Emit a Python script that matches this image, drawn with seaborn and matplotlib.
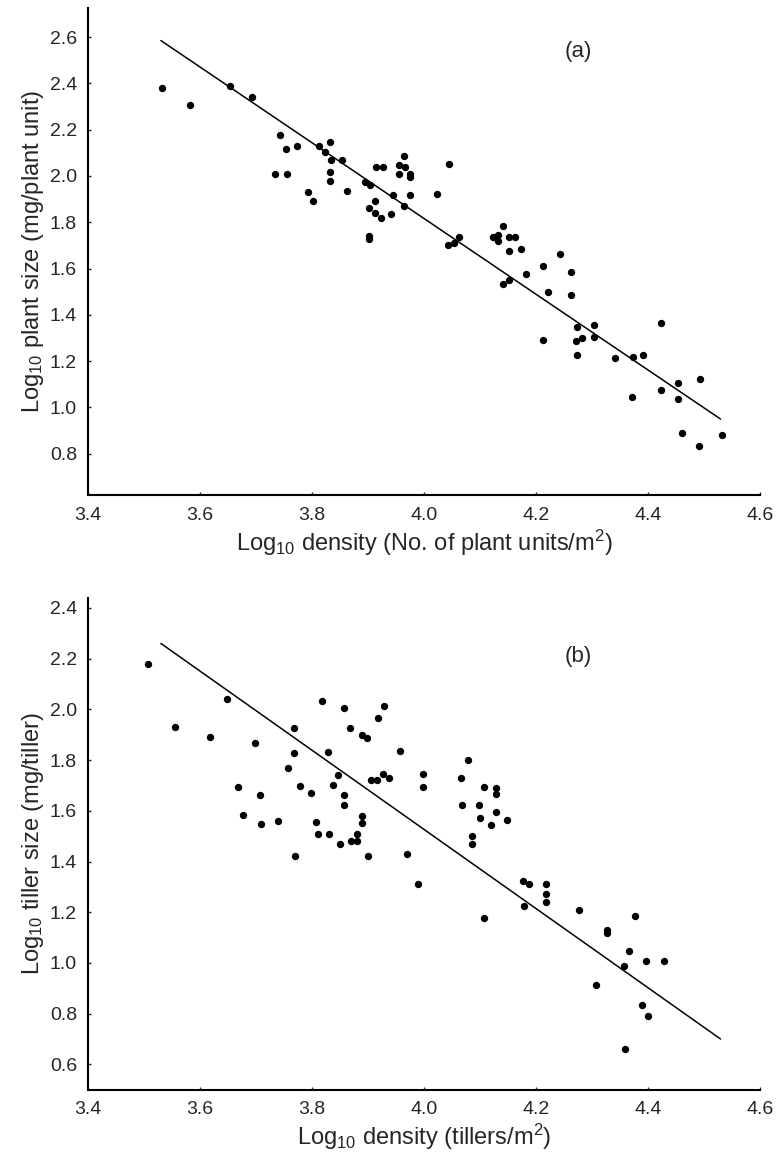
import matplotlib
matplotlib.use("Agg")
import matplotlib.pyplot as plt
import seaborn as sns
import pandas as pd

# (a) plant units: log10 density vs log10 plant size
density_a = [3.532, 3.582, 3.654, 3.693, 3.743, 3.754, 3.773, 3.734, 3.755, 3.793, 3.802,
             3.813, 3.823, 3.833, 3.834, 3.854, 3.833, 3.833, 3.863, 3.895, 3.904,
             3.914, 3.926, 3.965, 3.955, 3.966, 3.955, 3.976, 3.976, 4.045, 3.945,
             3.975, 4.024, 3.913, 3.902, 3.913, 3.923, 3.942, 3.964, 3.902, 3.902,
             4.043, 4.054, 4.063,
             4.142, 4.124, 4.133, 4.133, 4.152, 4.163, 4.152, 4.174, 4.243, 4.213,
             4.182, 4.263, 4.142, 4.152, 4.221, 4.263, 4.273, 4.304, 4.272, 4.283,
             4.304, 4.212, 4.273, 4.342, 4.373, 4.392, 4.423, 4.371, 4.424, 4.454,
             4.454, 4.493, 4.462, 4.492, 4.533]
size_a = [2.38, 2.305, 2.39, 2.34, 2.175, 2.118, 2.128, 2.01, 2.01, 1.93, 1.89,
          2.13, 2.105, 2.145, 2.07, 2.07, 2.018, 1.977, 1.936, 1.973, 1.961,
          2.038, 2.038, 2.085, 2.046, 2.038, 2.007, 2.007, 1.995, 2.051, 1.918,
          1.918, 1.92, 1.89, 1.86, 1.839, 1.819, 1.835, 1.871, 1.74, 1.729,
          1.70, 1.711, 1.737,
          1.783, 1.738, 1.747, 1.718, 1.735, 1.735, 1.676, 1.683, 1.664, 1.612,
          1.576, 1.584, 1.532, 1.551, 1.50, 1.487, 1.346, 1.356, 1.287, 1.298,
          1.306, 1.292, 1.228, 1.215, 1.218, 1.227, 1.364, 1.046, 1.076, 1.104,
          1.036, 1.124, 0.888, 0.833, 0.88]
fit_a_x = [3.53, 4.53]
fit_a_y = [2.585, 0.95]

# (b) tillers: log10 density vs log10 tiller size
density_b = [3.507, 3.555, 3.617, 3.648, 3.667, 3.677, 3.698, 3.707, 3.708, 3.739,
             3.758, 3.768, 3.768, 3.77, 3.779, 3.798, 3.808, 3.81, 3.817, 3.828,
             3.83, 3.837, 3.847, 3.85, 3.857, 3.857, 3.857, 3.868, 3.87, 3.88,
             3.88, 3.889, 3.889, 3.89, 3.899, 3.90, 3.905, 3.917, 3.918, 3.927,
             3.929, 3.937, 3.958, 3.97, 3.99, 3.999, 3.999, 4.067, 4.068, 4.079,
             4.085, 4.085, 4.098, 4.10, 4.107, 4.119, 4.128, 4.128, 4.128, 4.149,
             4.108, 4.177, 4.187, 4.218, 4.218, 4.218, 4.179, 4.277, 4.327, 4.327,
             4.377, 4.366, 4.357, 4.396, 4.429, 4.307, 4.39, 4.40, 4.36]
size_b = [2.18, 1.93, 1.89, 2.04, 1.692, 1.582, 1.869, 1.663, 1.546, 1.561,
          1.77, 1.927, 1.828, 1.42, 1.697, 1.67, 1.555, 1.51, 2.033, 1.83,
          1.51, 1.702, 1.742, 1.47, 2.005, 1.663, 1.622, 1.927, 1.48, 1.51,
          1.48, 1.899, 1.579, 1.55, 1.889, 1.42, 1.721, 1.721, 1.966, 1.744,
          2.012, 1.731, 1.835, 1.43, 1.31, 1.744, 1.694, 1.731, 1.622, 1.801,
          1.50, 1.47, 1.622, 1.573, 1.693, 1.543, 1.689, 1.668, 1.596, 1.565,
          1.176, 1.322, 1.31, 1.31, 1.27, 1.242, 1.224, 1.209, 1.128, 1.117,
          1.186, 1.047, 0.988, 1.008, 1.008, 0.912, 0.835, 0.79, 0.66]
fit_b_x = [3.53, 4.53]
fit_b_y = [2.26, 0.70]

xticks = [3.4, 3.6, 3.8, 4.0, 4.2, 4.4, 4.6]
yticks_a = [0.8, 1.0, 1.2, 1.4, 1.6, 1.8, 2.0, 2.2, 2.4, 2.6]
yticks_b = [0.6, 0.8, 1.0, 1.2, 1.4, 1.6, 1.8, 2.0, 2.2, 2.4]

sns.set_style("ticks")
plt.rcParams["font.family"] = ["Liberation Sans", "DejaVu Sans"]
plt.rcParams["mathtext.default"] = "regular"

fig = plt.figure(figsize=(7.8, 11.63), dpi=100)
ax_a = fig.add_axes([0.113, 0.574, 0.861, 0.419])
ax_b = fig.add_axes([0.113, 0.063, 0.861, 0.423])

panels = [
    (ax_a, density_a, size_a, fit_a_x, fit_a_y, yticks_a, (0.62, 2.725),
     "Log$_{10}$ density (No. of plant units/m$^2$)",
     "Log$_{10}$ plant size (mg/plant unit)", "(a)", 0.91),
    (ax_b, density_b, size_b, fit_b_x, fit_b_y, yticks_b, (0.50, 2.44),
     "Log$_{10}$ density (tillers/m$^2$)",
     "Log$_{10}$ tiller size (mg/tiller)", "(b)", 0.88),
]

for ax, dx, dy, fx, fy, yt, ylim, xlab, ylab, tag, tag_y in panels:
    df = pd.DataFrame({"density": dx, "size": dy})
    sns.scatterplot(data=df, x="density", y="size", ax=ax, color="black",
                    s=28, linewidth=0)
    sns.lineplot(x=fx, y=fy, ax=ax, color="black", linewidth=1.1)
    ax.set_xlim(3.4, 4.6)
    ax.set_ylim(*ylim)
    ax.set_xticks(xticks)
    ax.set_xticklabels([f"{t:.1f}" for t in xticks])
    ax.set_yticks(yt)
    ax.set_yticklabels([f"{t:.1f}" for t in yt])
    ax.tick_params(direction="in", length=2, width=1, labelsize=14, pad=8)
    ax.set_xlabel(xlab, fontsize=17, labelpad=3)
    ax.set_ylabel(ylab, fontsize=17, labelpad=3)
    for side in ["left", "bottom"]:
        ax.spines[side].set_linewidth(1.5)
        ax.spines[side].set_color("black")
    sns.despine(ax=ax)
    ax.text(0.73, tag_y, tag, transform=ax.transAxes, fontsize=16,
            ha="center", va="center")

fig.savefig("out.png", dpi=100)
